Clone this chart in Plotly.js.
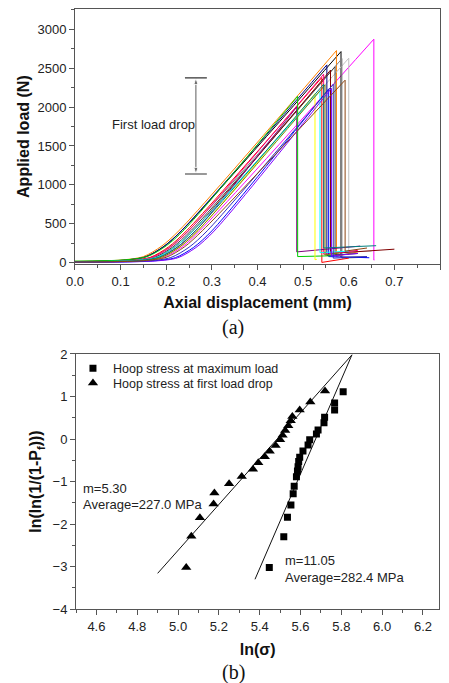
<!DOCTYPE html>
<html><head><meta charset="utf-8">
<script src="https://cdn.plot.ly/plotly-3.0.1.min.js"></script>
<style>html,body{margin:0;padding:0;background:#fff}#chart{width:449px;height:683px}</style>
</head><body><div id="chart"></div>
<script>
// ---------- (a) load-displacement curves ----------
const curveColors = ['#FF00FF','#000000','#FF8000','#C0C0C0','#808080','#000080','#404040','#FF0000','#800000','#FF0080',
                     '#0000FF','#800080','#00CC00','#FFFF00','#00FFFF','#808000','#8000FF','#008080','#3030C0','#8B4513'];
const toeX = [
  [0, 0.145, 0.195, 0.235, 0.275],
  [0, 0.105, 0.155, 0.195, 0.235],
  [0, 0.100, 0.150, 0.190, 0.230],
  [0, 0.130, 0.180, 0.220, 0.260],
  [0, 0.120, 0.170, 0.210, 0.250],
  [0, 0.105, 0.155, 0.195, 0.235],
  [0, 0.125, 0.175, 0.215, 0.255],
  [0, 0.115, 0.165, 0.205, 0.245],
  [0, 0.130, 0.180, 0.220, 0.260],
  [0, 0.120, 0.170, 0.210, 0.250],
  [0, 0.170, 0.220, 0.260, 0.300],
  [0, 0.135, 0.185, 0.225, 0.265],
  [0, 0.110, 0.160, 0.200, 0.240],
  [0, 0.140, 0.190, 0.230, 0.270],
  [0, 0.130, 0.180, 0.220, 0.260],
  [0, 0.140, 0.190, 0.230, 0.270],
  [0, 0.175, 0.225, 0.265, 0.305],
  [0, 0.135, 0.185, 0.225, 0.265],
  [0, 0.160, 0.210, 0.250, 0.290],
  [0, 0.150, 0.200, 0.240, 0.280]
];
const toeY = [
  [10, 28, 72, 205, 420],
  [15, 32, 78, 212, 420],
  [18, 35, 80, 215, 425],
  [12, 30, 74, 208, 418],
  [14, 31, 76, 210, 420],
  [16, 33, 78, 210, 422],
  [12, 29, 73, 206, 418],
  [10, 27, 70, 204, 415],
  [13, 30, 75, 208, 420],
  [11, 28, 72, 205, 418],
  [8, 24, 66, 198, 410],
  [9, 26, 70, 202, 415],
  [22, 38, 84, 218, 428],
  [10, 27, 71, 204, 416],
  [13, 30, 74, 208, 420],
  [11, 28, 72, 206, 418],
  [8, 23, 64, 196, 408],
  [12, 29, 73, 207, 419],
  [9, 25, 68, 200, 412],
  [10, 27, 71, 205, 417]
];
const peakX = [0.655, 0.583, 0.573, 0.600, 0.585, 0.552, 0.570, 0.541, 0.560, 0.545,
               0.556, 0.486, 0.488, 0.526, 0.537, 0.548, 0.562, 0.545, 0.566, 0.592];
const peakY = [2871, 2712, 2725, 2627, 2620, 2541, 2517, 2379, 2474, 2422,
               2233, 2000, 2138, 2172, 2207, 2284, 2241, 2293, 2293, 2345];
const dropY = [35, 70, 85, 140, 60, 95, 100, 5, 120, 110, 80, 140, 80, 40, 130, 100, 90, 190, 60, 150];
const tailX = [0.656, 0.640, 0.620, 0.650, 0.630, 0.600, 0.620, 0.600, 0.700, 0.620,
               0.645, 0.625, 0.560, 0.530, 0.600, 0.580, 0.620, 0.660, 0.640, 0.640];
const tailY = [35, 75, 140, 150, 70, 110, 120, 60, 175, 160, 65, 215, 90, 45, 150, 130, 120, 220, 80, 190];

// first load drop range marker
const dropRangeX = 0.265;
const dropRangeY = [1140, 2374];
const dropCapHalf = 0.024;

// ---------- (b) Weibull plot ----------
const maxLoadX = [5.447, 5.518, 5.536, 5.553, 5.564, 5.569, 5.580, 5.585, 5.588, 5.591, 5.596,
                  5.612, 5.637, 5.645, 5.678, 5.686, 5.715, 5.718, 5.767, 5.767, 5.809];
const maxLoadY = [-3.02, -2.30, -1.84, -1.55, -1.29, -1.11, -0.89, -0.75, -0.65, -0.53, -0.43,
                  -0.28, -0.14, -0.02, 0.12, 0.21, 0.38, 0.51, 0.68, 0.85, 1.11];
const firstDropX = [5.040, 5.065, 5.107, 5.174, 5.178, 5.250, 5.312, 5.367, 5.393, 5.425, 5.449,
                    5.478, 5.500, 5.512, 5.525, 5.540, 5.552, 5.560, 5.596, 5.648, 5.720];
const firstDropY = [-3.02, -2.29, -1.85, -1.53, -1.27, -1.05, -0.88, -0.71, -0.56, -0.42, -0.29,
                    -0.15, -0.02, 0.09, 0.20, 0.31, 0.43, 0.53, 0.68, 0.87, 1.13];
const firstDropFitX = [4.90, 5.852];
const firstDropFitY = [-3.16, 1.98];
const maxLoadFitX = [5.377, 5.852];
const maxLoadFitY = [-3.30, 1.98];

const FONT = 'Arial, "Liberation Sans", Helvetica, sans-serif';
const traces = [];
for (let i = 0; i < curveColors.length; i++) {
  traces.push({
    x: toeX[i].concat([peakX[i]]), y: toeY[i].concat([peakY[i]]),
    xaxis: 'x', yaxis: 'y', mode: 'lines', showlegend: false, hoverinfo: 'skip',
    line: {color: curveColors[i], width: 1, shape: 'spline', smoothing: 0.8}
  });
  traces.push({
    x: [peakX[i], peakX[i], tailX[i]], y: [peakY[i], dropY[i], tailY[i]],
    xaxis: 'x', yaxis: 'y', mode: 'lines', showlegend: false, hoverinfo: 'skip',
    line: {color: curveColors[i], width: 1}
  });
}
// double-headed arrow marking the range of first load drops
const midDrop = (dropRangeY[0] + dropRangeY[1]) / 2;
[dropRangeY[1], dropRangeY[0]].forEach(function (yEnd) {
  traces.push({
    x: [dropRangeX, dropRangeX], y: [midDrop, yEnd], xaxis: 'x', yaxis: 'y',
    mode: 'lines+markers', showlegend: false, hoverinfo: 'skip',
    line: {color: '#333', width: 0.8},
    marker: {symbol: 'arrow', angleref: 'previous', size: [0, 7], color: '#333'}
  });
});

traces.push({x: firstDropFitX, y: firstDropFitY, xaxis: 'x2', yaxis: 'y2', mode: 'lines',
  showlegend: false, line: {color: '#111', width: 1}});
traces.push({x: maxLoadFitX, y: maxLoadFitY, xaxis: 'x2', yaxis: 'y2', mode: 'lines',
  showlegend: false, line: {color: '#111', width: 1}});
traces.push({x: maxLoadX, y: maxLoadY, xaxis: 'x2', yaxis: 'y2', mode: 'markers',
  name: 'Hoop stress at maximum load', legend: 'legend',
  marker: {symbol: 'square', size: 7, color: '#000'}});
traces.push({x: firstDropX, y: firstDropY, xaxis: 'x2', yaxis: 'y2', mode: 'markers',
  name: 'Hoop stress at first load drop', legend: 'legend2',
  marker: {symbol: 'triangle-up', size: 9, color: '#000'}});

const axBase = {
  ticks: 'outside', ticklen: 5, tickwidth: 1, tickcolor: '#555',
  showline: true, linecolor: '#555', linewidth: 1, mirror: true,
  showgrid: false, zeroline: false, automargin: false,
  tickfont: {family: FONT, size: 13, color: '#222'}
};
const titleFont = {family: FONT, size: 16, color: '#111', weight: 'bold'};

const layout = {
  width: 449, height: 683, autosize: false,
  margin: {l: 0, r: 0, t: 0, b: 0},
  paper_bgcolor: '#fff', plot_bgcolor: '#fff',
  font: {family: FONT, color: '#222'},
  xaxis: Object.assign({}, axBase, {
    domain: [0.167, 0.980], anchor: 'y', range: [0, 0.8], dtick: 0.1, tickformat: '.1f',
    minor: {ticks: 'outside', ticklen: 3, dtick: 0.05, tickcolor: '#555', showgrid: false},
    title: {text: 'Axial displacement (mm)', font: titleFont, standoff: 9}
  }),
  yaxis: Object.assign({}, axBase, {
    domain: [0.6135, 0.9864], anchor: 'x', range: [-15, 3255], dtick: 500,
    minor: {ticks: 'outside', ticklen: 3, dtick: 250, tickcolor: '#555', showgrid: false},
    title: {text: 'Applied load (N)', font: titleFont, standoff: 3}
  }),
  xaxis2: Object.assign({}, axBase, {
    domain: [0.1693, 0.9784], anchor: 'y2', range: [4.5, 6.28], dtick: 0.2, tickformat: '.1f',
    minor: {ticks: 'outside', ticklen: 3, dtick: 0.1, tickcolor: '#555', showgrid: false},
    title: {text: 'ln(σ)', font: titleFont, standoff: 11}
  }),
  yaxis2: Object.assign({}, axBase, {
    domain: [0.1083, 0.4817], anchor: 'x2', range: [-4, 2], dtick: 1,
    minor: {ticks: 'outside', ticklen: 3, dtick: 0.5, tickcolor: '#555', showgrid: false},
    title: {text: 'ln(ln(1/(1-P<sub>f</sub>)))', font: titleFont, standoff: 6}
  }),
  legend: {x: 0.1625, y: 0.4822, xanchor: 'left', yanchor: 'top', bgcolor: 'rgba(0,0,0,0)',
    borderwidth: 0, font: {family: FONT, size: 12.5, color: '#222'}},
  legend2: {x: 0.1625, y: 0.4608, xanchor: 'left', yanchor: 'top', bgcolor: 'rgba(0,0,0,0)',
    borderwidth: 0, font: {family: FONT, size: 12.5, color: '#222'}},
  shapes: [
    {type: 'line', xref: 'x', yref: 'y', x0: dropRangeX - dropCapHalf, x1: dropRangeX + dropCapHalf,
     y0: dropRangeY[1], y1: dropRangeY[1], line: {color: '#333', width: 1.2}},
    {type: 'line', xref: 'x', yref: 'y', x0: dropRangeX - dropCapHalf, x1: dropRangeX + dropCapHalf,
     y0: dropRangeY[0], y1: dropRangeY[0], line: {color: '#333', width: 1.2}}
  ],
  annotations: [
    {xref: 'x', yref: 'y', x: 0.0767, y: 1770, xanchor: 'left', yanchor: 'middle', showarrow: false,
     text: 'First load drop', font: {family: FONT, size: 13, color: '#222'}},
    {xref: 'x2', yref: 'y2', x: 4.526, y: -1.16, xanchor: 'left', yanchor: 'middle', showarrow: false,
     text: 'm=5.30', font: {family: FONT, size: 13, color: '#222'}},
    {xref: 'x2', yref: 'y2', x: 4.526, y: -1.53, xanchor: 'left', yanchor: 'middle', showarrow: false,
     text: 'Average=227.0 MPa', font: {family: FONT, size: 13, color: '#222'}},
    {xref: 'x2', yref: 'y2', x: 5.513, y: -2.87, xanchor: 'left', yanchor: 'middle', showarrow: false,
     text: 'm=11.05', font: {family: FONT, size: 13, color: '#222'}},
    {xref: 'x2', yref: 'y2', x: 5.513, y: -3.25, xanchor: 'left', yanchor: 'middle', showarrow: false,
     text: 'Average=282.4 MPa', font: {family: FONT, size: 13, color: '#222'}},
    {xref: 'paper', yref: 'paper', x: 0.519, y: 0.5212, xanchor: 'center', yanchor: 'middle', showarrow: false,
     text: '(a)', font: {family: '"Liberation Serif", "Times New Roman", serif', size: 20, color: '#111'}},
    {xref: 'paper', yref: 'paper', x: 0.519, y: 0.0151, xanchor: 'center', yanchor: 'middle', showarrow: false,
     text: '(b)', font: {family: '"Liberation Serif", "Times New Roman", serif', size: 20, color: '#111'}}
  ]
};

Plotly.newPlot('chart', traces, layout, {staticPlot: true, displayModeBar: false});
</script>
</body></html>
